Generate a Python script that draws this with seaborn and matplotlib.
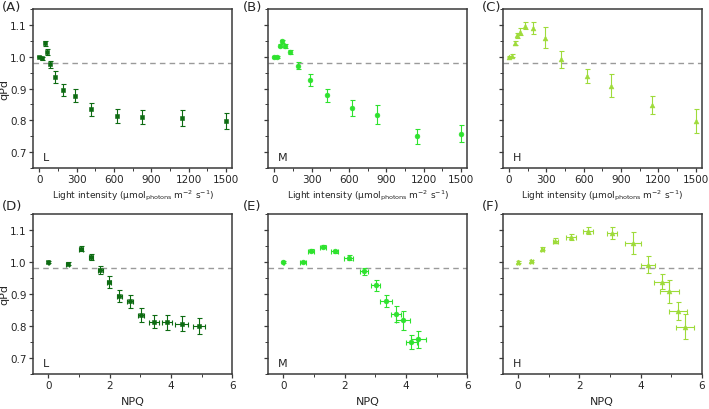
import matplotlib
matplotlib.use("Agg")
import numpy as np
import pandas as pd
import matplotlib.pyplot as plt
import seaborn as sns
from matplotlib.ticker import MultipleLocator, FormatStrFormatter

# light intensities (umol photons m-2 s-1)
light = [0, 25, 46, 66, 90, 126, 190, 286, 420, 624, 822, 1148, 1500]

# qPd vs light
qpd_L = [1.000, 0.995, 1.042, 1.015, 0.976, 0.937, 0.895, 0.877, 0.834, 0.814, 0.811, 0.807, 0.799]
err_L = [0.002, 0.004, 0.008, 0.009, 0.012, 0.019, 0.019, 0.021, 0.021, 0.021, 0.022, 0.024, 0.025]
qpd_M = [1.000, 0.999, 1.035, 1.048, 1.033, 1.014, 0.971, 0.927, 0.878, 0.839, 0.818, 0.750, 0.758]
err_M = [0.003, 0.003, 0.005, 0.005, 0.006, 0.007, 0.011, 0.018, 0.020, 0.025, 0.029, 0.023, 0.026]
qpd_H = [1.000, 1.003, 1.042, 1.067, 1.079, 1.098, 1.090, 1.060, 0.992, 0.939, 0.909, 0.848, 0.798]
err_H = [0.002, 0.004, 0.006, 0.008, 0.010, 0.012, 0.018, 0.034, 0.026, 0.022, 0.036, 0.028, 0.038]

# NPQ at each light step
npq_L = [0.00, 0.63, 1.06, 1.39, 1.70, 1.97, 2.32, 2.67, 3.03, 3.44, 3.87, 4.35, 4.92]
npq_err_L = [0.02, 0.06, 0.06, 0.06, 0.07, 0.07, 0.08, 0.09, 0.10, 0.17, 0.17, 0.20, 0.20]
npq_M = [0.00, 0.63, 0.91, 1.30, 1.68, 2.13, 2.64, 3.01, 3.35, 3.68, 3.91, 4.18, 4.40]
npq_err_M = [0.02, 0.10, 0.10, 0.10, 0.11, 0.15, 0.13, 0.15, 0.18, 0.17, 0.22, 0.18, 0.25]
npq_H = [0.00, 0.44, 0.79, 1.22, 1.73, 2.29, 3.07, 3.75, 4.24, 4.69, 4.94, 5.21, 5.44]
npq_err_H = [0.02, 0.04, 0.05, 0.08, 0.15, 0.17, 0.17, 0.25, 0.22, 0.25, 0.30, 0.30, 0.30]

groups = ["L", "M", "H"]
colors = {"L": "#0d6b12", "M": "#2ee22e", "H": "#9edb3a"}
markers = {"L": "s", "M": "o", "H": "^"}
qpd = {"L": qpd_L, "M": qpd_M, "H": qpd_H}
qerr = {"L": err_L, "M": err_M, "H": err_H}
npq = {"L": npq_L, "M": npq_M, "H": npq_H}
nerr = {"L": npq_err_L, "M": npq_err_M, "H": npq_err_H}

sns.set_style("ticks")
plt.rcParams["font.family"] = ["DejaVu Sans"]

fig = plt.figure(figsize=(7.09, 4.10), dpi=100)
lefts = [0.0465, 0.378, 0.709]
letter_x = [0.003, 0.343, 0.680]
letter_y = [0.997, 0.512]
w = 0.281
rows = [(0.5878, 0.3878), (0.0854, 0.3902)]
spine_col = "#3a3a3a"
letters = ["(A)", "(B)", "(C)", "(D)", "(E)", "(F)"]

for r, (bot, h) in enumerate(rows):
    for c, g in enumerate(groups):
        ax = fig.add_axes([lefts[c], bot, w, h])
        if r == 0:
            df = pd.DataFrame({"x": light, "y": qpd[g]})
            ax.errorbar(light, qpd[g], yerr=qerr[g], fmt="none", ecolor=colors[g],
                        elinewidth=0.8, capsize=1.8, capthick=0.8, zorder=2)
        else:
            df = pd.DataFrame({"x": npq[g], "y": qpd[g]})
            ax.errorbar(npq[g], qpd[g], xerr=nerr[g], yerr=qerr[g], fmt="none",
                        ecolor=colors[g], elinewidth=0.8, capsize=1.8, capthick=0.8, zorder=2)
        sns.scatterplot(data=df, x="x", y="y", ax=ax, color=colors[g], marker=markers[g],
                        s=12, edgecolor=colors[g], linewidth=0.4, zorder=3)
        ax.axhline(0.98, color="#9a9a9a", ls=(0, (4, 3)), lw=1.0, zorder=1)

        ax.set_ylim(0.65, 1.15)
        ax.yaxis.set_major_locator(MultipleLocator(0.1))
        ax.yaxis.set_minor_locator(MultipleLocator(0.05))
        if r == 0:
            ax.set_xlim(-50, 1550)
            ax.xaxis.set_major_locator(MultipleLocator(300))
            ax.xaxis.set_minor_locator(MultipleLocator(150))
            ax.set_xlabel("Light intensity (µmol$_{\\mathrm{photons}}$ m$^{-2}$ s$^{-1}$)",
                          fontsize=6.5, labelpad=2)
        else:
            ax.set_xlim(-0.5, 6)
            ax.xaxis.set_major_locator(MultipleLocator(2))
            ax.xaxis.set_minor_locator(MultipleLocator(1))
            ax.set_xlabel("NPQ", fontsize=8, labelpad=4)

        if c == 0:
            ax.set_ylabel("qPd", fontsize=8)
            ax.yaxis.set_label_coords(-0.12, 0.5)
            ax.yaxis.set_major_formatter(FormatStrFormatter("%.1f"))
        else:
            ax.set_ylabel("")
            ax.set_yticklabels([])

        for s in ax.spines.values():
            s.set_visible(True)
            s.set_color(spine_col)
            s.set_linewidth(1.1)
        ax.tick_params(which="major", direction="out", length=3, width=0.9, color=spine_col,
                       labelsize=7.5, pad=1.5)
        ax.tick_params(which="minor", direction="out", length=2, width=0.7, color=spine_col)
        ax.text(0.05, 0.04, g, transform=ax.transAxes, fontsize=8, ha="left", va="bottom")

        fig.text(letter_x[c], letter_y[r], letters[r * 3 + c],
                 fontsize=9.5, ha="left", va="top")

fig.savefig("out.png", dpi=100)
